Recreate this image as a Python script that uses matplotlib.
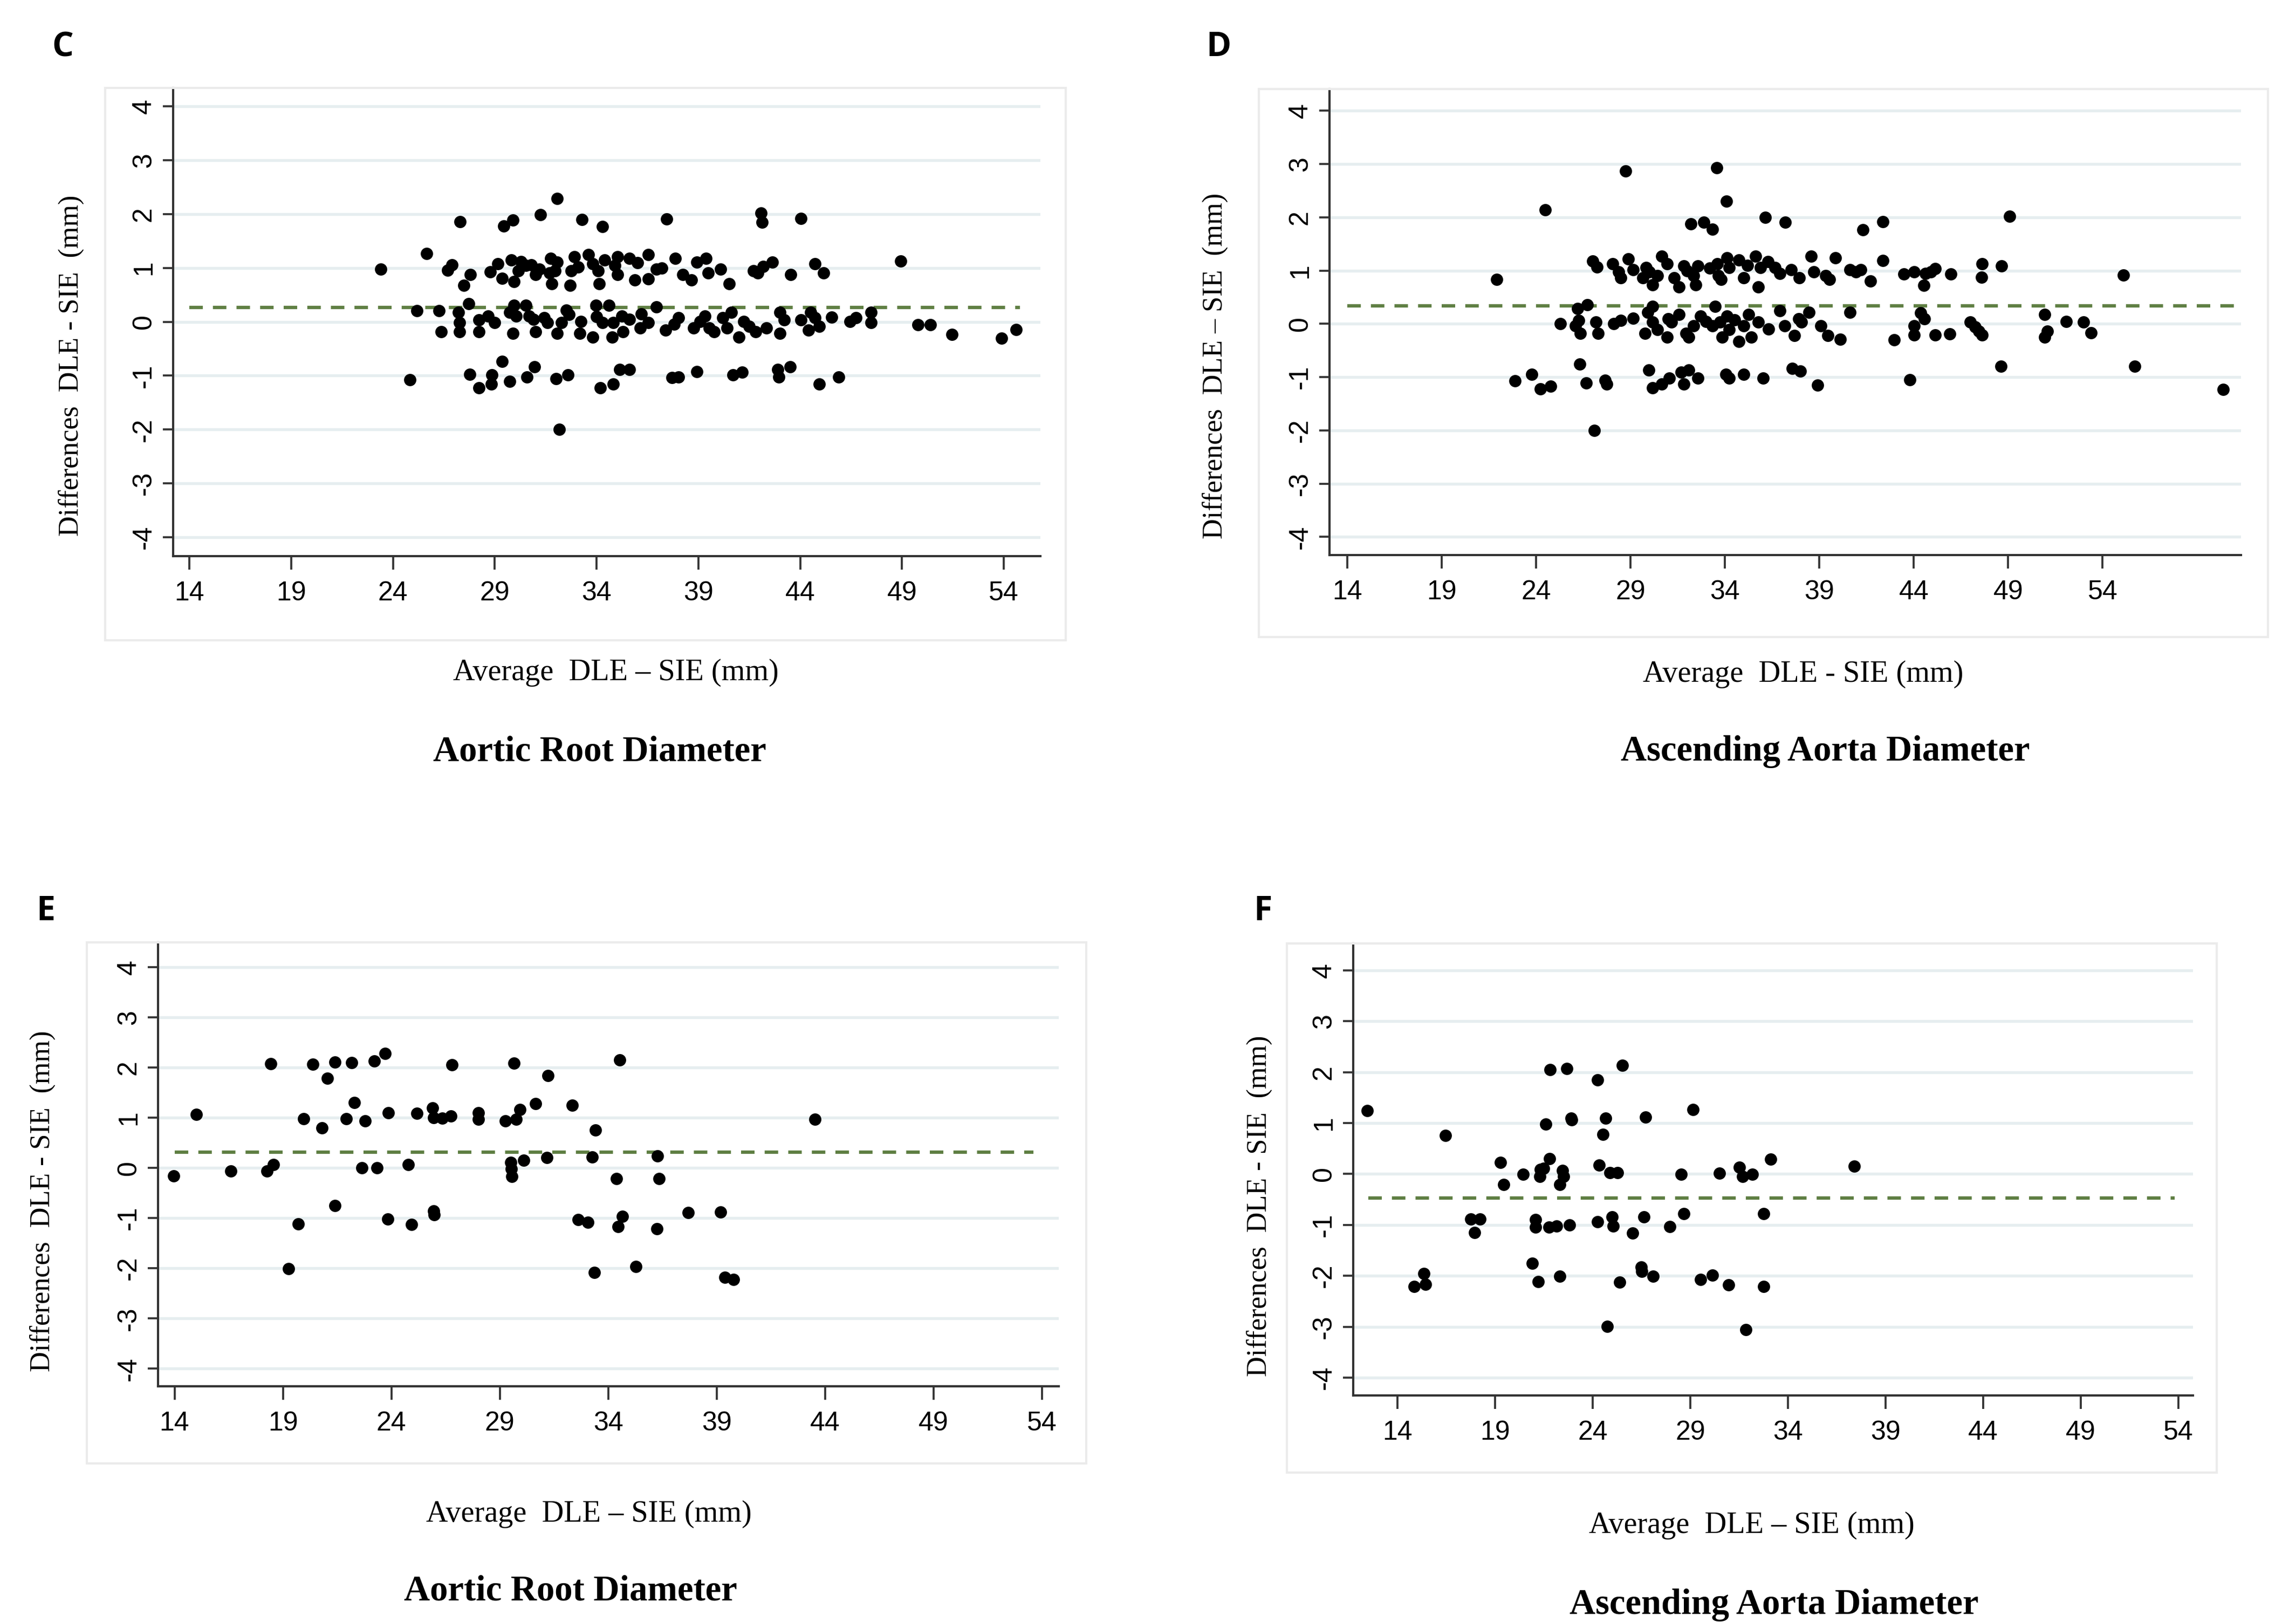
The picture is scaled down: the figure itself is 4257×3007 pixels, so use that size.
import matplotlib.pyplot as plt
from matplotlib.patches import Rectangle

# ---- Panel C: Aortic Root Diameter (average vs difference, mm)
c_avg = [
    32.06, 27.30, 29.43, 29.90, 31.24, 33.28, 34.29, 37.43,
    23.40, 25.66, 26.69, 26.90, 27.49, 27.79, 28.77, 29.14, 29.35, 29.81,
    29.94, 30.15, 30.52, 30.79, 31.00, 31.74, 31.69, 31.80, 32.06, 31.96,
    32.91, 32.75, 32.70, 33.60, 33.82, 34.08, 34.14, 34.40, 35.04, 35.04,
    35.62, 35.89, 36.53, 36.53, 36.95, 37.86, 38.23, 38.65, 38.92,
    30.30, 31.20, 33.10, 34.90, 36.00, 37.20,
    25.17, 26.27, 26.37, 27.22, 27.28, 27.28, 27.72, 28.23, 28.23, 28.66,
    28.98, 29.72, 29.94, 30.04, 29.88, 30.52, 30.68, 31.00, 31.42, 31.58,
    32.06, 32.27, 32.65, 33.18, 33.23, 33.82, 33.98, 34.29, 34.61, 34.77,
    34.82, 35.25, 35.30, 36.15, 36.53, 36.95, 37.38, 38.02, 38.76, 39.08,
    30.90, 32.50, 34.00, 35.60, 37.80, 36.20,
    24.83, 27.76, 28.23, 28.82, 28.87, 29.35, 29.72, 30.57, 30.95, 32.01,
    32.59, 34.19, 34.82, 35.14, 35.62, 37.70, 38.02, 38.92, 32.17,
    42.08, 42.14, 44.03, 39.38, 39.49, 40.08, 40.52, 41.70, 41.92, 42.19,
    42.62, 43.54, 44.73, 45.14, 48.94,
    39.33, 39.54, 39.76, 40.19, 40.41, 40.62, 41.00, 41.22, 41.49, 41.81,
    42.35, 43.00, 43.22, 43.00, 44.03, 44.40, 44.51, 44.73, 44.94, 45.56,
    46.46, 46.73, 47.48, 47.48, 49.78, 50.40, 51.45, 53.90, 54.60,
    40.71, 41.16, 42.89, 42.95, 43.52, 44.94, 45.89,
]
c_diff = [
    2.29, 1.86, 1.78, 1.89, 1.99, 1.90, 1.77, 1.91,
    0.98, 1.27, 0.96, 1.06, 0.68, 0.88, 0.93, 1.08, 0.81, 1.15,
    0.75, 0.95, 1.05, 1.06, 0.88, 1.18, 0.91, 0.71, 1.11, 0.95,
    1.21, 0.95, 0.68, 1.25, 1.08, 0.95, 0.71, 1.15, 1.21, 0.88,
    1.18, 0.78, 1.25, 0.80, 0.98, 1.18, 0.88, 0.78, 1.11,
    1.12, 0.98, 1.02, 1.05, 1.10, 1.00,
    0.21, 0.21, -0.19, 0.18, -0.02, -0.19, 0.34, 0.04, -0.19, 0.11,
    -0.02, 0.18, 0.31, 0.11, -0.22, 0.31, 0.11, -0.19, 0.08, -0.02,
    -0.22, -0.02, 0.14, -0.22, 0.01, -0.29, 0.31, -0.02, 0.31, -0.29,
    -0.02, 0.11, -0.19, -0.12, -0.02, 0.28, -0.16, 0.08, -0.12, 0.01,
    0.05, 0.22, 0.10, 0.05, -0.05, 0.15,
    -1.08, -0.98, -1.23, -1.16, -0.99, -0.74, -1.11, -1.03, -0.84, -1.06,
    -0.99, -1.23, -1.16, -0.89, -0.89, -1.04, -1.03, -0.93, -2.00,
    2.02, 1.85, 1.92, 1.18, 0.91, 0.98, 0.71, 0.95, 0.91, 1.03,
    1.11, 0.88, 1.08, 0.91, 1.13,
    0.11, -0.12, -0.19, 0.08, -0.12, 0.18, -0.29, 0.01, -0.09, -0.19,
    -0.12, 0.18, 0.04, -0.22, 0.04, -0.16, 0.18, 0.08, -0.09, 0.09,
    0.01, 0.08, 0.18, -0.02, -0.06, -0.06, -0.24, -0.31, -0.15,
    -0.99, -0.94, -0.89, -1.03, -0.84, -1.16, -1.03,
]
c_mean = 0.27

# ---- Panel D: Ascending Aorta Diameter
d_avg = [
    28.72, 33.57, 34.07, 24.47, 32.19, 32.89, 33.34, 36.14, 37.19, 41.30, 21.90,
    26.99, 27.22, 28.05, 28.37, 28.49, 28.87, 29.13, 29.64, 29.83, 30.15,
    30.41, 30.66, 30.92, 31.30, 31.55, 31.81, 32.32, 32.57, 32.45, 33.59,
    33.66, 33.78, 34.10, 34.23, 34.74, 34.99, 35.63, 35.76, 35.89, 36.27,
    36.65, 36.91, 37.93, 38.57, 38.69, 39.33, 39.52, 39.84, 40.61, 40.93,
    30.00, 32.00, 33.20, 35.20, 37.50,
    25.28, 26.20, 26.71, 26.07, 26.32, 26.26, 27.28, 27.15, 28.11, 28.49,
    29.13, 29.77, 29.90, 30.15, 30.15, 30.41, 30.92, 31.17, 31.55, 31.94,
    32.07, 32.32, 32.70, 33.34, 33.47, 33.72, 33.85, 34.10, 34.23, 34.74,
    34.99, 35.25, 35.38, 35.76, 36.91, 37.16, 37.67, 38.06, 38.44, 39.08,
    39.46, 40.10, 40.61,
    31.00, 33.00, 34.50, 36.30, 37.90,
    22.88, 23.77, 24.22, 24.77, 26.30, 26.64, 27.73, 27.66, 29.96, 30.15,
    30.66, 31.04, 31.68, 31.81, 32.07, 32.57, 34.04, 34.23, 34.99, 36.02,
    37.55, 37.99, 38.89, 27.09,
    42.36, 49.07, 42.36, 41.19, 41.70, 43.48, 44.02, 44.53, 44.63, 44.89,
    45.14, 45.97, 47.63, 47.59, 48.65, 55.10,
    44.35, 44.57, 44.02, 44.02, 42.95, 45.12, 45.91, 47.00, 47.25, 47.44,
    47.63, 50.94, 51.07, 50.94, 52.07, 52.98, 53.39,
    48.62, 55.70, 43.80, 60.40,
]
d_diff = [
    2.87, 2.93, 2.30, 2.14, 1.88, 1.91, 1.78, 2.00, 1.91, 1.77, 0.84,
    1.18, 1.07, 1.13, 0.98, 0.87, 1.22, 1.02, 0.87, 1.06, 0.73,
    0.91, 1.27, 1.13, 0.87, 0.69, 1.09, 0.91, 1.09, 0.73, 1.13,
    0.91, 0.84, 1.24, 1.06, 1.20, 0.87, 1.27, 0.69, 1.06, 1.17,
    1.06, 0.95, 0.87, 1.27, 0.98, 0.91, 0.84, 1.24, 1.02, 0.98,
    0.98, 1.00, 1.05, 1.10, 1.02,
    0.00, 0.29, 0.36, -0.04, -0.18, 0.07, -0.18, 0.04, 0.00, 0.07,
    0.11, -0.18, 0.22, 0.33, 0.04, -0.11, -0.25, 0.04, 0.18, -0.18,
    -0.25, -0.04, 0.15, -0.04, 0.33, 0.04, -0.25, 0.15, -0.11, -0.33,
    -0.04, 0.18, -0.25, 0.04, 0.25, -0.04, -0.22, 0.04, 0.22, -0.04,
    -0.22, -0.29, 0.22,
    0.10, 0.05, 0.08, -0.10, 0.10,
    -1.07, -0.95, -1.22, -1.17, -0.75, -1.11, -1.13, -1.06, -0.87, -1.20,
    -1.13, -1.02, -0.91, -1.13, -0.87, -1.02, -0.95, -1.02, -0.95, -1.02,
    -0.84, -0.89, -1.15, -2.00,
    1.92, 2.02, 1.19, 1.02, 0.80, 0.94, 0.98, 0.72, 0.95, 0.98,
    1.04, 0.94, 1.13, 0.88, 1.09, 0.92,
    0.21, 0.10, -0.04, -0.21, -0.30, -0.21, -0.19, 0.03, -0.06, -0.14,
    -0.21, 0.18, -0.14, -0.25, 0.05, 0.03, -0.17,
    -0.80, -0.80, -1.05, -1.23,
]
d_mean = 0.34

# ---- Panel E: Aortic Root Diameter
e_avg = [
    13.96, 15.00, 16.60, 18.27, 18.56, 18.43, 19.27, 19.70, 19.96, 20.38,
    20.79, 21.05, 21.40, 21.40, 21.93, 22.17, 22.30, 22.65, 22.80, 23.20,
    23.33, 23.70, 23.85, 23.84, 24.77, 24.92, 25.17, 25.90, 25.96, 25.96,
    25.98, 26.35, 26.75, 26.80, 28.02, 28.02, 29.25, 29.50, 29.52, 29.55,
    29.66, 29.75, 29.93, 30.10, 30.66, 31.22, 31.18, 32.35, 32.62, 33.05,
    33.26, 33.36, 33.42, 34.53, 36.26, 34.39, 36.35, 34.66, 34.46, 36.25,
    37.68, 39.18, 35.28, 39.38, 39.78, 43.53,
]
e_diff = [
    -0.16, 1.06, -0.06, -0.06, 0.07, 2.07, -2.01, -1.12, 0.98, 2.06,
    0.80, 1.78, 2.11, -0.75, 0.98, 2.09, 1.30, 0.00, 0.93, 2.13,
    0.00, 2.28, 1.10, -1.02, 0.06, -1.13, 1.08, 1.19, 1.00, -0.86,
    -0.93, 0.99, 1.03, 2.05, 1.10, 0.97, 0.94, 0.11, -0.02, -0.17,
    2.08, 0.97, 1.16, 0.15, 1.28, 1.84, 0.20, 1.25, -1.03, -1.08,
    0.21, -2.08, 0.75, 2.15, 0.24, -0.21, -0.21, -0.97, -1.17, -1.21,
    -0.89, -0.88, -1.97, -2.18, -2.22, 0.97,
]
e_mean = 0.31

# ---- Panel F: Ascending Aorta Diameter
f_avg = [
    12.45, 14.84, 15.35, 15.44, 16.46, 17.74, 18.22, 17.96, 19.28, 19.45,
    20.44, 20.90, 21.07, 21.07, 21.21, 21.28, 21.33, 21.59, 21.47, 21.79,
    21.76, 21.81, 22.15, 22.32, 22.30, 22.44, 22.50, 22.66, 22.80, 22.89,
    22.91, 24.25, 24.34, 24.25, 24.51, 24.66, 24.75, 24.87, 25.00, 25.06,
    25.26, 25.38, 25.53, 26.03, 26.49, 26.50, 26.63, 26.71, 27.10, 27.96,
    28.53, 28.68, 29.14, 29.53, 30.13, 30.49, 30.95, 31.50, 31.67, 32.18,
    31.84, 32.75, 32.75, 33.12, 37.40,
]
f_diff = [
    1.25, -2.21, -1.95, -2.17, 0.76, -0.88, -0.88, -1.15, 0.23, -0.21,
    -0.01, -1.75, -0.90, -1.04, -2.11, -0.05, 0.09, 0.98, 0.11, 0.30,
    -1.04, 2.05, -1.02, -2.01, -0.21, 0.07, -0.05, 2.07, -1.00, 1.10,
    1.06, 1.85, 0.17, -0.94, 0.78, 1.10, -2.99, 0.03, -0.84, -1.02,
    0.03, -2.12, 2.13, -1.16, -1.83, -1.91, -0.84, 1.12, -2.01, -1.03,
    -0.01, -0.78, 1.27, -2.07, -1.99, 0.02, -2.18, 0.13, -0.05, -0.01,
    -3.06, -0.78, -2.21, 0.29, 0.15,
]
f_mean = -0.47

x_ticks = [14, 19, 24, 29, 34, 39, 44, 49, 54]
y_ticks = [-4, -3, -2, -1, 0, 1, 2, 3, 4]

TICK_FONT = "Liberation Sans"
LABEL_FONT = "Liberation Serif"
GRID_COLOR = "#e6eef0"
MEAN_COLOR = "#5f7f43"

W, H = 4257, 3007
fig = plt.figure(figsize=(W / 300, H / 300), dpi=300)
fig.patch.set_facecolor("white")


def fx(px):
    return px / W


def fy(py):
    return 1 - py / H


# each panel: axes box, region box, xlim, ylim, mean line span, text anchors (all in pixels)
panels = [
    dict(name="C", x=c_avg, y=c_diff, mean=c_mean, span=(14.0, 54.8),
         axes=(321, 1929, 163, 1031), box=(195, 1976, 163, 1187),
         xlim=(13.2, 55.8), ylim=(-4.35, 4.34),
         letter=(116, 88), ylab=(132, 678), xlab=(1142, 1247), title=(1112, 1394),
         ytext="Differences  DLE - SIE  (mm)", xtext="Average  DLE \u2013 SIE (mm)",
         ttext="Aortic Root Diameter"),
    dict(name="D", x=d_avg, y=d_diff, mean=d_mean, span=(14.0, 61.3),
         axes=(2465, 4155, 165, 1029), box=(2334, 4205, 165, 1181),
         xlim=(13.05, 61.33), ylim=(-4.34, 4.41),
         letter=(2260, 88), ylab=(2253, 678), xlab=(3343, 1250), title=(3384, 1394),
         ytext="Differences  DLE \u2013 SIE  (mm)", xtext="Average  DLE - SIE (mm)",
         ttext="Ascending Aorta Diameter"),
    dict(name="E", x=e_avg, y=e_diff, mean=e_mean, span=(14.0, 53.6),
         axes=(293, 1963, 1747, 2570), box=(161, 2014, 1747, 2713),
         xlim=(13.24, 54.77), ylim=(-4.35, 4.49),
         letter=(85, 1689), ylab=(79, 2227), xlab=(1092, 2807), title=(1058, 2950),
         ytext="Differences  DLE - SIE  (mm)", xtext="Average  DLE \u2013 SIE (mm)",
         ttext="Aortic Root Diameter"),
    dict(name="F", x=f_avg, y=f_diff, mean=f_mean, span=(12.5, 53.8),
         axes=(2509, 4066, 1749, 2587), box=(2386, 4110, 1749, 2730),
         xlim=(11.73, 54.75), ylim=(-4.35, 4.53),
         letter=(2341, 1689), ylab=(2335, 2236), xlab=(3248, 2828), title=(3289, 2975),
         ytext="Differences  DLE - SIE  (mm)", xtext="Average  DLE \u2013 SIE (mm)",
         ttext="Ascending Aorta Diameter"),
]

for p in panels:
    assert len(p["x"]) == len(p["y"]), p["name"]

    # light outer graph-region frame
    bx0, bx1, by0, by1 = p["box"]
    fig.patches.append(Rectangle((fx(bx0), fy(by1)), fx(bx1) - fx(bx0), fy(by0) - fy(by1),
                                 transform=fig.transFigure, fill=False,
                                 edgecolor="#ebebeb", linewidth=1.0, zorder=0))

    ax0, ax1, ay0, ay1 = p["axes"]
    ax = fig.add_axes([fx(ax0), fy(ay1), fx(ax1) - fx(ax0), fy(ay0) - fy(ay1)])
    ax.set_xlim(*p["xlim"])
    ax.set_ylim(*p["ylim"])

    for v in y_ticks:
        ax.axhline(v, color=GRID_COLOR, linewidth=1.3, zorder=0)

    ax.hlines(p["mean"], p["span"][0], p["span"][1], colors=MEAN_COLOR,
              linewidth=1.5, linestyles=(0, (4, 3)), zorder=2)
    ax.scatter(p["x"], p["y"], s=30, color="black", linewidths=0, zorder=3)

    ax.set_xticks(x_ticks)
    ax.set_yticks(y_ticks)
    ax.set_xticklabels([str(t) for t in x_ticks], fontfamily=TICK_FONT, fontsize=12)
    ax.set_yticklabels([str(t) for t in y_ticks], fontfamily=TICK_FONT, fontsize=12,
                       rotation=90, va="center")
    ax.tick_params(axis="x", length=6, width=0.9, pad=5, color="#333333")
    ax.tick_params(axis="y", length=4.5, width=0.9, pad=3, color="#333333")
    for side in ("top", "right"):
        ax.spines[side].set_visible(False)
    for side in ("left", "bottom"):
        ax.spines[side].set_color("#333333")
        ax.spines[side].set_linewidth(1.0)

    fig.text(fx(p["letter"][0]), fy(p["letter"][1]), p["name"], fontfamily="Open Sans",
             fontweight="bold", fontsize=15, ha="center", va="center")
    fig.text(fx(p["ylab"][0]), fy(p["ylab"][1]), p["ytext"], fontfamily=LABEL_FONT,
             fontsize=12.5, rotation=90, ha="center", va="center")
    fig.text(fx(p["xlab"][0]), fy(p["xlab"][1]), p["xtext"], fontfamily=LABEL_FONT,
             fontsize=13.5, ha="center", va="center")
    fig.text(fx(p["title"][0]), fy(p["title"][1]), p["ttext"], fontfamily=LABEL_FONT,
             fontweight="bold", fontsize=16, ha="center", va="center")

fig.savefig("out.png", dpi=300, facecolor="white")
